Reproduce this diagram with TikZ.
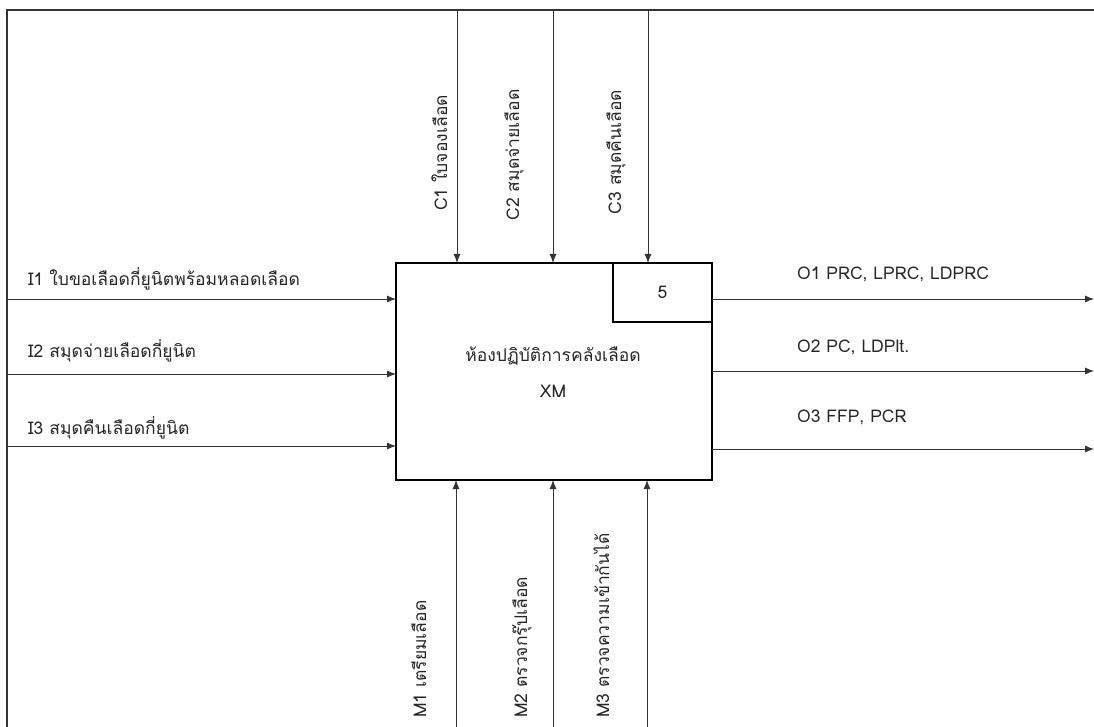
\documentclass[tikz,border=0pt]{standalone}
\usepackage{fontspec}
\setmainfont[Script=Thai]{Loma}
\usetikzlibrary{arrows.meta}
\tikzset{
  lbl/.style={inner sep=0pt, font=\fontsize{17.5}{20}\selectfont, text=black!85},
  flow/.style={draw=black!80, line width=0.9pt, -{Latex[length=9pt,width=7pt]}},
  frameline/.style={draw=black!80, line width=2pt},
  boxstyle/.style={draw=black, line width=1.3pt, minimum width=316pt, minimum height=217pt, inner sep=0pt},
  numbox/.style={draw=black, line width=1.3pt, minimum width=99pt, minimum height=59pt, inner sep=0pt, font=\fontsize{17.5}{20}\selectfont, text=black!85}
}
\begin{document}
\begin{tikzpicture}[x=1pt,y=-1pt]
\useasboundingbox (0,0) rectangle (1094,727);
% frame
\coordinate (ftl) at (7,10);
\coordinate (fbl) at (7,727);
\coordinate (ftr) at (1094,10);
\draw[frameline] (fbl) -- (ftl) -- (ftr);
% main box
\node[boxstyle] (box) at (554,371.5) {};
\node[numbox, anchor=north east] (num) at (box.north east) {5};
\node[lbl, align=center] (title) at (553,356) {ห้องปฏิบัติการคลังเลือด};
\node[lbl] (xm) at (553,391) {XM};
% controls
\foreach \n/\x in {c1/457, c2/553, c3/648}{
  \coordinate (\n s) at (\x,10);
  \coordinate (\n e) at (\x,263);
  \draw[flow] (\n s) -- (\n e);
}
% mechanisms
\foreach \n/\x in {m1/456, m2/553, m3/647}{
  \coordinate (\n s) at (\x,727);
  \coordinate (\n e) at (\x,480);
  \draw[flow] (\n s) -- (\n e);
}
% inputs
\foreach \n/\y in {i1/299, i2/374, i3/446}{
  \coordinate (\n s) at (7,\y);
  \coordinate (\n e) at (396,\y);
  \draw[flow] (\n s) -- (\n e);
}
% outputs
\foreach \n/\y in {o1/299, o2/371, o3/449}{
  \coordinate (\n s) at (712,\y);
  \coordinate (\n e) at (1094,\y);
  \draw[flow] (\n s) -- (\n e);
}
% input labels
\node[lbl, anchor=west] (li1) at (28,279) {I1 ใบขอเลือดกี่ยูนิตพร้อมหลอดเลือด};
\node[lbl, anchor=west] (li2) at (28,351) {I2 สมุดจ่ายเลือดกี่ยูนิต};
\node[lbl, anchor=west] (li3) at (28,428) {I3 สมุดคืนเลือดกี่ยูนิต};
% output labels
\node[lbl, anchor=west] (lo1) at (797,274) {O1 PRC, LPRC, LDPRC};
\node[lbl, anchor=west] (lo2) at (797,347) {O2 PC, LDPlt.};
\node[lbl, anchor=west] (lo3) at (797,417) {O3 FFP, PCR};
% control labels (rotated)
\node[lbl, rotate=90, anchor=base] (lc1) at (447,153) {C1 ใบจองเลือด};
\node[lbl, rotate=90, anchor=base] (lc2) at (519,155) {C2 สมุดจ่ายเลือด};
\node[lbl, rotate=90, anchor=base] (lc3) at (621,152) {C3 สมุดคืนเลือด};
% mechanism labels
\node[lbl, rotate=90, anchor=base west] (lm1) at (426,718) {M1 เตรียมเลือด};
\node[lbl, rotate=90, anchor=base west] (lm2) at (527,718) {M2 ตรวจกรุ๊ปเลือด};
\node[lbl, rotate=90, anchor=base west] (lm3) at (609,718) {M3 ตรวจความเข้ากันได้};
\end{tikzpicture}
\end{document}
